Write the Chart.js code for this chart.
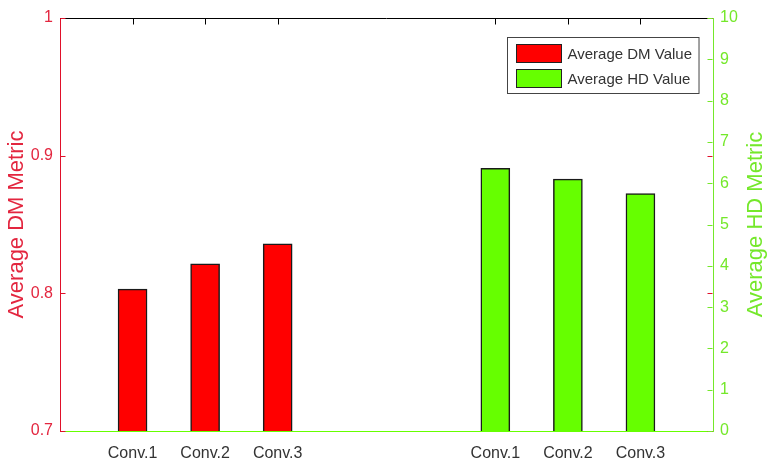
<!DOCTYPE html>
<html>
<head>
<meta charset="utf-8">
<script src="https://cdn.jsdelivr.net/npm/chart.js@4.4.1/dist/chart.umd.min.js"></script>
<style>
  html, body { margin: 0; padding: 0; background: #fff; }
  #wrap { width: 776px; height: 471px; }
</style>
</head>
<body>
<div id="wrap"><canvas id="chart" width="776" height="471"></canvas></div>
<script>
const categories = ["Conv.1", "Conv.2", "Conv.3"];
const dmValues = [0.803, 0.8215, 0.836];
const hdValues = [6.36, 6.1, 5.75];
const seriesNames = ["Average DM Value", "Average HD Value"];
const axisTitles = ["Average DM Metric", "Average HD Metric"];

const RED = "#ff0000";
const GREEN = "#66ff00";
const RED_TEXT = "#e3263f";
const GREEN_TEXT = "#74e82a";
const NARROW = "'Liberation Sans Narrow', 'Liberation Sans', Arial, sans-serif";
const SANS = "'Liberation Sans', Arial, sans-serif";

// two groups of bars with a gap between them, empty slots at both ends
const slotLabels = ["", ...categories, "", "", ...categories, ""];
const dmData = [null, ...dmValues, ...new Array(6).fill(null)];
const hdData = [...new Array(6).fill(null), ...hdValues, null];

const extrasPlugin = {
  id: "extras",
  afterDraw(chart) {
    const ctx = chart.ctx;
    const ca = chart.chartArea;
    const x = chart.scales.x;
    const y = chart.scales.y;
    const y1 = chart.scales.y1;
    const L = Math.round(ca.left) + 0.5;
    const R = Math.round(ca.right) - 0.5;
    const T = Math.round(ca.top) + 0.5;

    ctx.save();
    ctx.lineWidth = 1;

    // top border
    ctx.strokeStyle = "#000";
    ctx.beginPath();
    ctx.moveTo(L, T);
    ctx.lineTo(R, T);
    ctx.stroke();

    // x tick marks along the top
    slotLabels.forEach(function (lab, i) {
      if (!lab) return;
      const px = Math.round(x.getPixelForTick(i)) + 0.5;
      ctx.beginPath();
      ctx.moveTo(px, T);
      ctx.lineTo(px, T + 6);
      ctx.stroke();
    });

    // left axis ticks, inside, mirrored on right
    ctx.strokeStyle = "#e0102a";
    y.ticks.forEach(function (t) {
      const py = Math.round(y.getPixelForValue(t.value)) + 0.5;
      ctx.beginPath();
      ctx.moveTo(L, py);
      ctx.lineTo(L + 5, py);
      ctx.moveTo(R - 5, py);
      ctx.lineTo(R, py);
      ctx.stroke();
    });

    // right axis ticks
    ctx.strokeStyle = GREEN_TEXT;
    y1.ticks.forEach(function (t) {
      const py = Math.round(y1.getPixelForValue(t.value)) + 0.5;
      ctx.beginPath();
      ctx.moveTo(R - 5, py);
      ctx.lineTo(R, py);
      ctx.stroke();
    });

    // right axis title, reading upward
    ctx.fillStyle = GREEN_TEXT;
    ctx.font = "22px " + SANS;
    ctx.textAlign = "center";
    ctx.textBaseline = "middle";
    ctx.translate(756, (ca.top + ca.bottom) / 2);
    ctx.rotate(-Math.PI / 2);
    ctx.fillText(axisTitles[1], 0, 0);
    ctx.restore();

    // legend box
    ctx.save();
    ctx.font = "15px " + NARROW;
    const textW = Math.max(...chart.data.datasets.map((d) => ctx.measureText(d.label).width));
    const boxW = 9 + 45 + 6 + textW + 7;
    const boxH = 56;
    const bx = Math.round(ca.right - 14 - boxW) + 0.5;
    const by = Math.round(ca.top + 19) + 0.5;
    ctx.fillStyle = "#fff";
    ctx.fillRect(bx, by, boxW, boxH);
    ctx.strokeStyle = "#444";
    ctx.strokeRect(bx, by, boxW, boxH);
    chart.data.datasets.forEach(function (d, i) {
      const sy = by + 7 + i * 25;
      ctx.fillStyle = d.backgroundColor;
      ctx.fillRect(bx + 9, sy, 45, 18);
      ctx.strokeStyle = "#222";
      ctx.strokeRect(bx + 9, sy, 45, 18);
      ctx.fillStyle = "#333";
      ctx.textAlign = "left";
      ctx.textBaseline = "middle";
      ctx.fillText(d.label, bx + 9 + 45 + 6, sy + 10);
    });
    ctx.restore();
  },
};

new Chart(document.getElementById("chart"), {
  type: "bar",
  data: {
    labels: slotLabels,
    datasets: [
      {
        label: seriesNames[0],
        data: dmData,
        yAxisID: "y",
        backgroundColor: RED,
        borderColor: "#1a1a1a",
        borderWidth: 1.5,
        barThickness: 29,
        grouped: false,
      },
      {
        label: seriesNames[1],
        data: hdData,
        yAxisID: "y1",
        backgroundColor: GREEN,
        borderColor: "#1a1a1a",
        borderWidth: 1.5,
        barThickness: 29,
        grouped: false,
      },
    ],
  },
  options: {
    responsive: false,
    animation: false,
    layout: { padding: { top: 18, left: 0, right: 0, bottom: 0 } },
    plugins: {
      legend: { display: false },
      tooltip: { enabled: false },
    },
    scales: {
      x: {
        type: "category",
        offset: false,
        grid: { display: false, drawTicks: false },
        border: { display: true, color: GREEN, width: 1 },
        ticks: {
          autoSkip: false,
          maxRotation: 0,
          minRotation: 0,
          padding: 13,
          color: "#333",
          font: { family: NARROW, size: 16 },
        },
        afterFit(scale) {
          scale.height = 40;
        },
      },
      y: {
        position: "left",
        min: 0.7,
        max: 1,
        grid: { display: false, drawTicks: false },
        border: { display: true, color: "#e0102a", width: 1 },
        ticks: {
          stepSize: 0.1,
          padding: 7,
          color: RED_TEXT,
          font: { family: SANS, size: 16 },
          callback: (v) => String(Number(v.toFixed(1))),
        },
        title: {
          display: true,
          text: axisTitles[0],
          color: RED_TEXT,
          font: { family: SANS, size: 22 },
          padding: { top: 4, bottom: 0 },
        },
        afterFit(scale) {
          scale.width = 60;
        },
      },
      y1: {
        position: "right",
        min: 0,
        max: 10,
        grid: { display: false, drawTicks: false },
        border: { display: true, color: GREEN_TEXT, width: 1 },
        ticks: {
          stepSize: 1,
          padding: 7,
          color: GREEN_TEXT,
          font: { family: SANS, size: 16 },
        },
        afterFit(scale) {
          scale.width = 63;
        },
      },
    },
  },
  plugins: [extrasPlugin],
});
</script>
</body>
</html>
